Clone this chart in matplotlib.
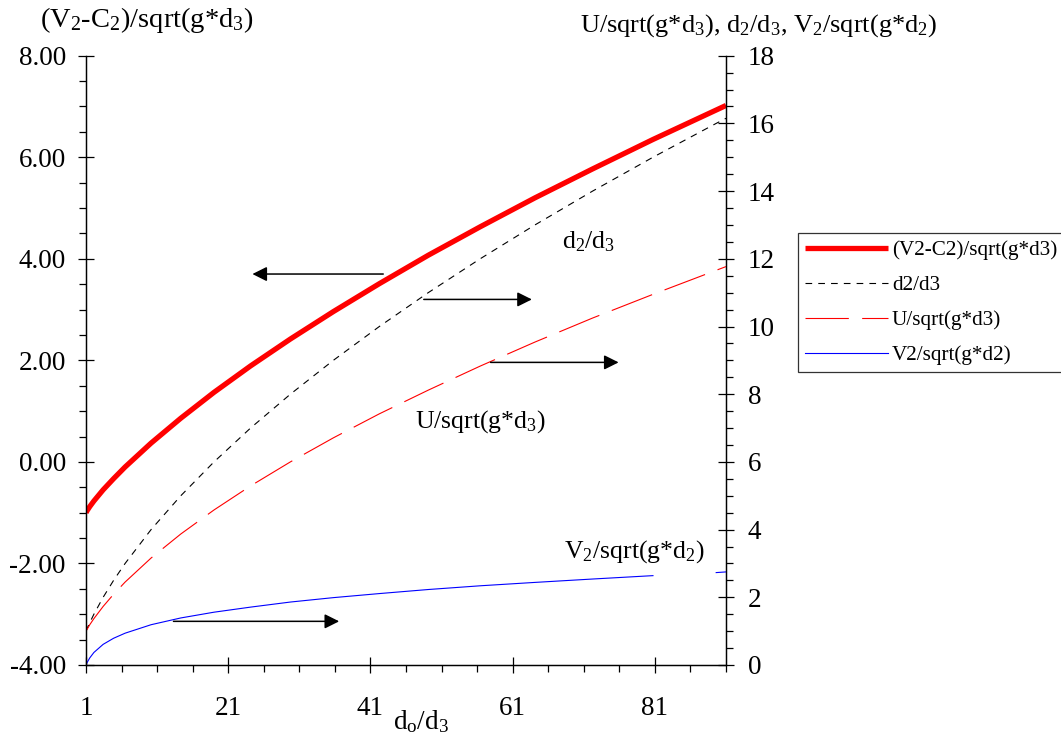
import numpy as np
import matplotlib
matplotlib.use("Agg")
import matplotlib.pyplot as plt

plt.rcParams['font.family'] = ['Liberation Serif', 'DejaVu Serif']
plt.rcParams['mathtext.default'] = 'regular'
plt.rcParams['axes.unicode_minus'] = False

# d0/d3 ratio (x axis)
d0_d3 = [1.00, 1.20, 1.53, 2.11, 3.41, 4.88, 6.50, 10.15, 14.33, 19.00, 24.14,
         29.74, 35.78, 42.25, 49.13, 56.43, 64.13, 72.24, 80.73, 89.62, 91.00]
# (V2-C2)/sqrt(g*d3)  -> left axis
v2_c2 = [-1.00, -0.95, -0.88, -0.77, -0.55, -0.33, -0.10, 0.37, 0.86, 1.37, 1.89,
         2.42, 2.96, 3.51, 4.07, 4.63, 5.20, 5.77, 6.35, 6.93, 7.02]
# d2/d3 -> right axis
d2_d3 = [1.00, 1.10, 1.25, 1.50, 2.00, 2.50, 3.00, 4.00, 5.00, 6.00, 7.00,
         8.00, 9.00, 10.00, 11.00, 12.00, 13.00, 14.00, 15.00, 16.00, 16.15]
# U/sqrt(g*d3) -> right axis
u_gd3 = [1.00, 1.07, 1.19, 1.37, 1.73, 2.09, 2.45, 3.16, 3.87, 4.58, 5.29,
         6.00, 6.71, 7.42, 8.12, 8.83, 9.54, 10.25, 10.95, 11.66, 11.77]
# V2/sqrt(g*d2) -> right axis (the original line is broken before the last points)
v2_gd2 = [0.00, 0.09, 0.21, 0.37, 0.61, 0.79, 0.94, 1.19, 1.39, 1.56, 1.71,
          1.86, 1.99, 2.11, 2.23, 2.34, 2.44, 2.54, 2.64, 2.73, 2.75]
v2_break = 19  # index where the blue line restarts

x_major = [1, 21, 41, 61, 81]
left_major = [-4, -2, 0, 2, 4, 6, 8]
right_major = [0, 2, 4, 6, 8, 10, 12, 14, 16, 18]

W, H = 1061, 738
fig = plt.figure(figsize=(W / 100, H / 100), dpi=100)
ax = fig.add_axes([86 / W, 1 - 665 / H, (726 - 86) / W, (665 - 55.7) / H])
ax2 = ax.twinx()

l1, = ax.plot(d0_d3, v2_c2, color='#ff0000', lw=3.8, solid_capstyle='butt',
              label='(V2-C2)/sqrt(g*d3)')
l2, = ax2.plot(d0_d3, d2_d3, color='black', lw=0.8, dashes=(6, 5.5),
               label='d2/d3')
l3, = ax2.plot(d0_d3, u_gd3, color='#ff0000', lw=0.8, dashes=(39, 12),
               label='U/sqrt(g*d3)')
l4, = ax2.plot(d0_d3[:v2_break], v2_gd2[:v2_break], color='#0000ff', lw=0.8,
               label='V2/sqrt(g*d2)')
ax2.plot(d0_d3[v2_break:], v2_gd2[v2_break:], color='#0000ff', lw=0.8)

ax.set_xlim(1, 91)
ax.set_ylim(-4, 8)
ax2.set_ylim(0, 18)

ax.set_xticks(x_major)
ax.set_xticks(np.arange(1, 92, 5), minor=True)
ax.set_yticks(left_major)
ax.set_yticks(np.arange(-4, 8.01, 0.5), minor=True)
ax.set_yticklabels(['%.2f' % v for v in left_major])
ax2.set_yticks(right_major)
ax2.set_yticks(np.arange(0, 18.01, 0.5), minor=True)
ax2.set_yticklabels([str(v) for v in right_major])

for a in (ax, ax2):
    a.spines['top'].set_visible(False)
    for s in a.spines.values():
        s.set_linewidth(0.9)

ax.tick_params(axis='y', which='major', direction='inout', length=11, width=0.9,
               pad=9, labelsize=19.5)
ax.tick_params(axis='y', which='minor', direction='out', length=5, width=0.9)
ax.tick_params(axis='x', which='major', direction='inout', length=11, width=0.9,
               pad=17, labelsize=19.5)
ax.tick_params(axis='x', which='minor', direction='out', length=5, width=0.9)
ax2.tick_params(axis='y', which='major', direction='inout', length=11, width=0.9,
                pad=10, labelsize=19.5)
ax2.tick_params(axis='y', which='minor', direction='out', length=5, width=0.9)

# arrows pointing to the axis each curve belongs to
arrow = dict(arrowstyle='-|>', color='black', lw=1.1, mutation_scale=22,
             shrinkA=0, shrinkB=0)
ax.annotate('', xy=(24.4, 3.70), xytext=(42.8, 3.70), arrowprops=arrow)
ax2.annotate('', xy=(63.7, 10.8), xytext=(48.5, 10.8), arrowprops=arrow)
ax2.annotate('', xy=(75.9, 8.94), xytext=(57.9, 8.94), arrowprops=arrow)
ax2.annotate('', xy=(36.6, 1.29), xytext=(13.3, 1.29), arrowprops=arrow)

ax2.text(68.0, 12.5, 'd$_2$/d$_3$', fontsize=18.5, va='center', ha='left')
ax2.text(47.2, 7.18, 'U/sqrt(g*d$_3$)', fontsize=18.5, va='center', ha='left')
ax2.text(68.2, 3.35, 'V$_2$/sqrt(g*d$_2$)', fontsize=18.5, va='center', ha='left')

fig.text(40 / W, 1 - 20 / H, '(V$_2$-C$_2$)/sqrt(g*d$_3$)', fontsize=20.5,
         ha='left', va='center')
fig.text(580 / W, 1 - 26 / H, 'U/sqrt(g*d$_3$), d$_2$/d$_3$, V$_2$/sqrt(g*d$_2$)',
         fontsize=19, ha='left', va='center')
fig.text(421 / W, 1 - 722 / H, 'd$_o$/d$_3$', fontsize=19.5, ha='center', va='center')

leg = fig.legend([l1, l2, l3, l4], [l.get_label() for l in (l1, l2, l3, l4)],
                 loc='upper left', bbox_to_anchor=(798 / W, 1 - 233 / H),
                 borderaxespad=0, fontsize=15.2, handlelength=3.9,
                 handletextpad=0.2, labelspacing=0.72, borderpad=0.35,
                 fancybox=False, framealpha=1, edgecolor='#333333')
leg.get_frame().set_linewidth(0.9)

fig.savefig('out.png', dpi=100)
